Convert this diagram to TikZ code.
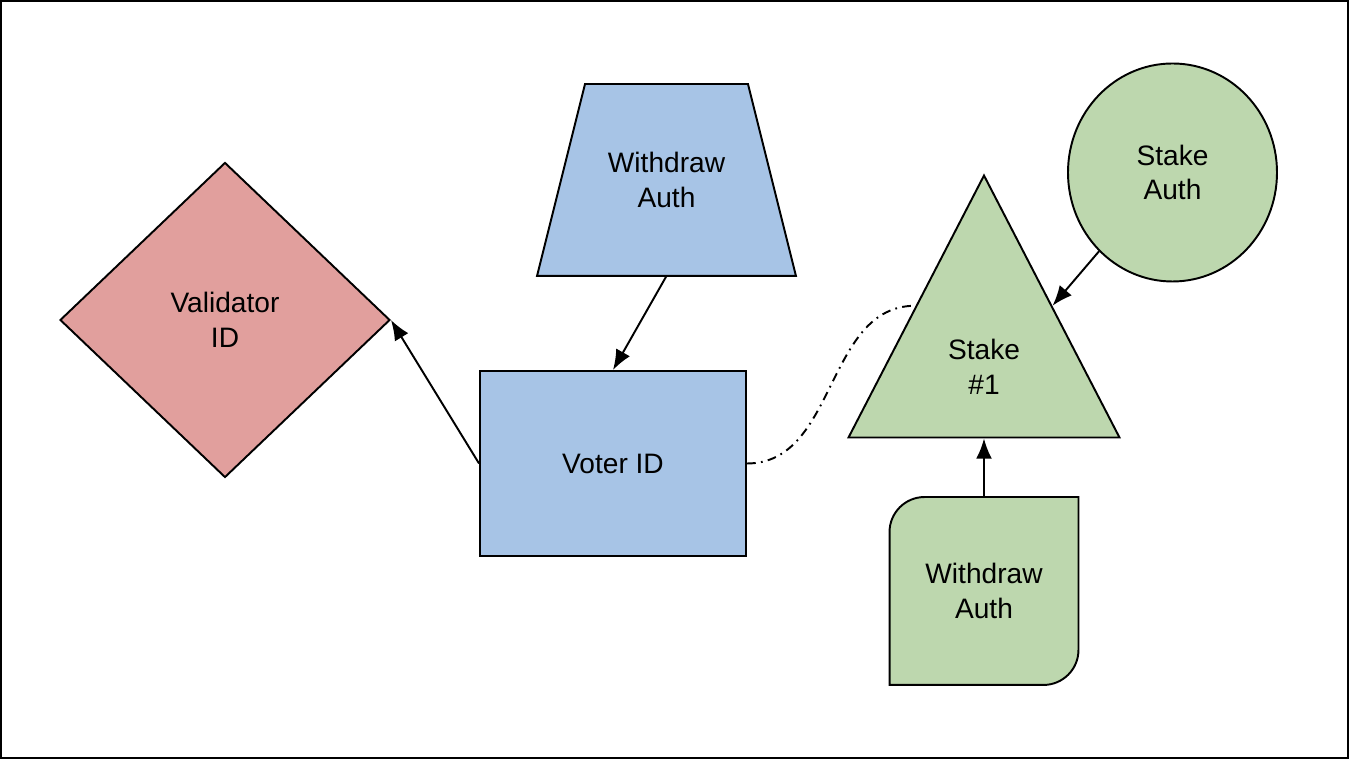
\documentclass[tikz,border=0pt]{standalone}
\usepackage{fontspec}
\setmainfont{Liberation Sans}
\usetikzlibrary{shapes.geometric}
\usetikzlibrary{arrows.meta}
\usetikzlibrary{calc}
\usetikzlibrary{backgrounds}
\newcommand{\px}{0.02cm}
\newcommand{\cornerradius}{35}
\newcommand{\trapinset}{48}
\definecolor{validatorred}{HTML}{E19F9D}
\definecolor{voterblue}{HTML}{A7C4E6}
\definecolor{stakegreen}{HTML}{BDD7AE}
\tikzstyle{block}=[
  draw,
  line width=1.1pt,
  align=center,
  inner sep=0pt,
  font=\fontsize{16}{19.8}\selectfont
]
\tikzstyle{op}=[
  -{Latex[length=11.5pt,width=9pt]},
  line width=1.1pt
]
\tikzstyle{link}=[
  line width=1.1pt,
  dash pattern=on 5pt off 3pt on 1pt off 3pt
]
\begin{document}
\begin{tikzpicture}[x=\px, y=\px]
  \useasboundingbox (0,0) rectangle (1350,760);
  \draw[line width=1.2pt] (1,2) rectangle (1348,759);

  \node[block, diamond, fill=validatorred, minimum width=330*\px, minimum height=315*\px] (validator) at (225,440) {Validator\\ID};
  \node[block, draw=none, minimum width=257*\px, minimum height=190*\px] (withdraw) at (666.5,580) {Withdraw\\Auth};
  \node[block, rectangle, fill=voterblue, minimum width=266*\px, minimum height=185*\px] (voter) at (613,296.5) {Voter ID};
  \node[block, isosceles triangle, shape border rotate=90, isosceles triangle stretches, fill=stakegreen,
        minimum width=271*\px, minimum height=262*\px, anchor=apex] (stake) at (984,587) {Stake\\\#1};
  \node[block, ellipse, fill=stakegreen, minimum width=209*\px, minimum height=218*\px] (stakeauth) at (1172.5,587.5) {Stake\\Auth};
  \node[block, draw=none, minimum width=187*\px, minimum height=186*\px] (stakewithdraw) at (984,169) {Withdraw\\Auth};

  \begin{scope}[on background layer]
    \draw[block, fill=voterblue] (withdraw.south west) -- (withdraw.south east)
      -- ($(withdraw.north east) - (\trapinset,0)$) -- ($(withdraw.north west) + (\trapinset,0)$) -- cycle;
    \draw[block, fill=stakegreen] (stakewithdraw.north east)
      -- ($(stakewithdraw.south east) + (0,\cornerradius)$) arc[start angle=0, end angle=-90, radius=\cornerradius*\px]
      -- (stakewithdraw.south west)
      -- ($(stakewithdraw.north west) - (0,\cornerradius)$) arc[start angle=180, end angle=90, radius=\cornerradius*\px]
      -- cycle;
  \end{scope}

  \draw[op] (withdraw.south) -- (voter.north);
  \draw[op] (voter.west) -- (validator.east);
  \draw[op] (stakeauth.227) -- (stake.right side);
  \draw[op] (stakewithdraw.north) -- (stake.south);
  \draw[link] (voter.east) to[out=0, in=180] (stake.left side);
\end{tikzpicture}
\end{document}
